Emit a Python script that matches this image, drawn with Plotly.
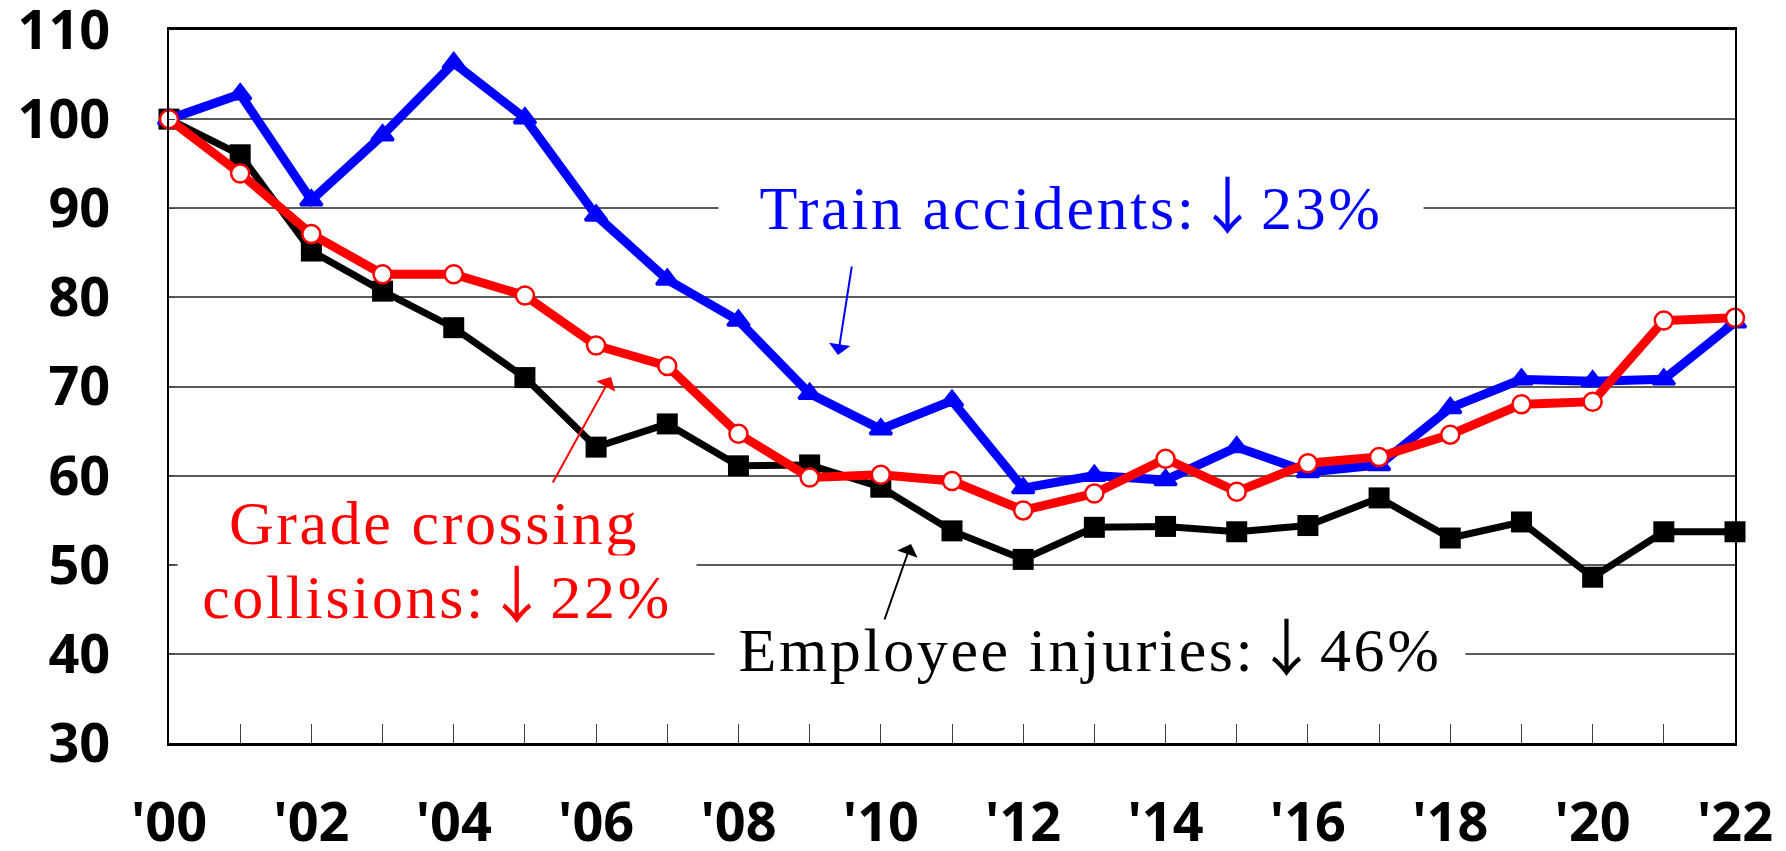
import plotly.graph_objects as go

# ---------------- data (index, 2000 = 100) ----------------
years = [2000, 2001, 2002, 2003, 2004, 2005, 2006, 2007, 2008, 2009, 2010, 2011,
         2012, 2013, 2014, 2015, 2016, 2017, 2018, 2019, 2020, 2021, 2022]
train_accidents = [100, 102.8, 90.9, 98.2, 106.3, 100.1, 89.2, 82.0, 77.4, 69.2, 65.2, 68.4,
                   58.6, 60.0, 59.5, 63.2, 60.4, 61.2, 67.6, 70.8, 70.6, 70.8, 77.2]
grade_crossing = [100, 93.9, 87.1, 82.6, 82.6, 80.2, 74.6, 72.3, 64.7, 59.8, 60.1, 59.4,
                  56.1, 58.0, 61.9, 58.2, 61.4, 62.1, 64.6, 68.0, 68.3, 77.4, 77.7]
employee_injuries = [100, 96.0, 85.2, 80.7, 76.6, 71.0, 63.2, 65.8, 61.1, 61.2, 58.7, 53.8,
                     50.6, 54.2, 54.3, 53.7, 54.4, 57.5, 53.0, 54.8, 48.6, 53.7, 53.7]
x_tick_labels = ["'00", "", "'02", "", "'04", "", "'06", "", "'08", "", "'10", "",
                 "'12", "", "'14", "", "'16", "", "'18", "", "'20", "", "'22"]
y_tick_values = [30, 40, 50, 60, 70, 80, 90, 100, 110]

# ---------------- layout geometry (pixels) ----------------
W, H = 1786, 851
L, R, T, B = 169, 51, 30, 108
PW, PH = W - L - R, H - T - B


def xp(px):
    return (px - L) / PW


def yp(py):
    return (T + PH - py) / PH


fig = go.Figure()

fig.add_trace(go.Scatter(
    x=years, y=employee_injuries, mode="lines+markers", name="Employee injuries",
    line=dict(color="#000000", width=7),
    marker=dict(symbol="square", size=21, color="#000000"),
    cliponaxis=False))
fig.add_trace(go.Scatter(
    x=years, y=train_accidents, mode="lines+markers", name="Train accidents",
    line=dict(color="#0000FF", width=9),
    marker=dict(symbol="triangle-up", size=19, color="#0000FF",
                line=dict(color="#0000FF", width=3)),
    cliponaxis=False))
fig.add_trace(go.Scatter(
    x=years, y=grade_crossing, mode="lines+markers", name="Grade crossing collisions",
    line=dict(color="#FF0000", width=9),
    marker=dict(symbol="circle", size=18, color="#FFFFFF",
                line=dict(color="#FF0000", width=2.5)),
    cliponaxis=False))

serif = "Liberation Serif, Times New Roman, serif"
ARROW = "<span style='font-family:Noto Sans CJK JP'>\u2193</span>"
annotations = [
    dict(text="Train accidents:" + ARROW + "23%", x=xp(1071), y=yp(202), width=704, height=76,
         color="#0000FF"),
    dict(text="Grade crossing", x=xp(434), y=yp(523), width=518, height=66,
         color="#FF0000"),
    dict(text="collisions:" + ARROW + "22%", x=xp(437), y=yp(591), width=518, height=70,
         color="#FF0000"),
    dict(text="Employee injuries:" + ARROW + "46%", x=xp(1090), y=yp(644), width=750, height=80,
         color="#000000"),
]
anns = []
for a in annotations:
    anns.append(dict(
        text=a["text"], x=a["x"], y=a["y"], xref="paper", yref="paper",
        xanchor="center", yanchor="middle", showarrow=False,
        width=a["width"], height=a["height"], bgcolor="#FFFFFF", borderpad=0,
        font=dict(family=serif, size=62, color=a["color"])))

arrows = [
    ((838, 355), (852, 265), "#0000FF"),
    ((611, 377), (552, 484), "#FF0000"),
    ((911, 544), (884, 621), "#000000"),
]
for head, tail, col in arrows:
    anns.append(dict(
        text="", x=xp(head[0]), y=yp(head[1]), xref="paper", yref="paper",
        showarrow=True, ax=tail[0] - head[0], ay=tail[1] - head[1],
        arrowhead=1, arrowsize=1.8, arrowwidth=2, arrowcolor=col, standoff=0,
        startstandoff=0))

tick_font = dict(family="Open Sans, Liberation Sans, Arial, sans-serif", size=54,
                 color="#000000", weight="bold")

fig.update_layout(
    width=W, height=H, autosize=False,
    margin=dict(l=L, r=R, t=T, b=B, pad=0, autoexpand=False),
    paper_bgcolor="#FFFFFF", plot_bgcolor="#FFFFFF",
    showlegend=False,
    annotations=anns,
    xaxis=dict(
        range=[2000, 2022], tickmode="array", tickvals=years, ticktext=x_tick_labels,
        ticks="inside", ticklen=19, tickwidth=1, tickcolor="#404040",
        showgrid=False, zeroline=False, automargin=False, ticklabeloverflow="allow",
        showline=True, linewidth=2.5, linecolor="#000000", mirror=True,
        tickfont=tick_font, ticklabelstandoff=30),
    yaxis=dict(
        range=[30, 110], tickmode="array", tickvals=y_tick_values,
        ticks="inside", ticklen=6, tickwidth=1, tickcolor="#404040",
        showgrid=True, gridcolor="#5a5a5a", gridwidth=1.5, zeroline=False,
        automargin=False, ticklabeloverflow="allow",
        showline=True, linewidth=2, linecolor="#000000", mirror=True,
        tickfont=tick_font, ticklabelstandoff=46),
)

post = ("var s=document.createElement('style');"
        "s.innerHTML='body{margin:0;overflow:hidden;} .annotation-text{letter-spacing:2.6px;}';"
        "document.head.appendChild(s);")
fig.write_html("out.html", post_script=post, config={"displayModeBar": False})
